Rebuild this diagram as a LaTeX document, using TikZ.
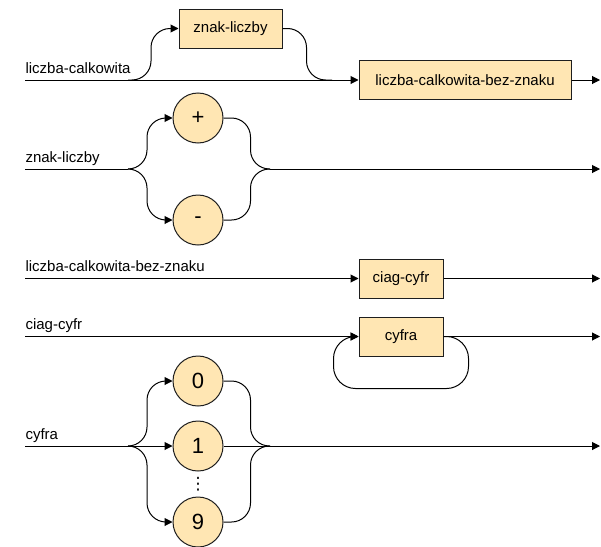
\documentclass[tikz,border=0pt]{standalone}
\usepackage{fontspec}
\setmainfont{Liberation Sans}
\newfontfamily\symfont{DejaVu Sans}
\usetikzlibrary{arrows.meta}
\definecolor{boxfill}{RGB}{255,230,179}
\definecolor{edgec}{RGB}{30,30,30}
\begin{document}
\begin{tikzpicture}[x=1pt,y=-1pt,line width=1pt,
  term/.style={draw=edgec,fill=boxfill,rectangle,minimum height=39pt,inner sep=0pt,font=\fontsize{15}{18}\selectfont},
  lit/.style={draw=edgec,fill=boxfill,circle,minimum size=50pt,inner sep=0pt,font=\fontsize{22}{26}\selectfont},
  lbl/.style={anchor=base west,inner sep=0pt,font=\fontsize{15}{18}\selectfont},
  arr/.style={-{Triangle[length=8pt,width=8pt]}},
  curvy/.style={rounded corners=19pt}]
\useasboundingbox (0,0) rectangle (601,546);

% ---------- row 1 ----------
\node[lbl] (l1) at (25,73) {liczba-calkowita};
\coordinate (a1) at (25,80);
\coordinate (s1) at (128,80);
\coordinate (m1) at (332,80);
\coordinate (e1) at (600,80);
\node[term,minimum width=103pt] (znak) at (230.5,28.5) {znak-liczby};
\node[term,minimum width=212pt] (lcbz) at (465,80) {liczba-calkowita-bez-znaku};
\draw[arr] (a1) -- (lcbz.west);
\draw[arr] (lcbz.east) -- (e1);
\draw[arr,curvy] (s1) -- ++(23,0) |- (znak.west);
\draw[curvy] (znak.east) -- ++(24,0) |- (m1);

% ---------- row 2 ----------
\node[lbl] (l2) at (25,162) {znak-liczby};
\coordinate (a2) at (25,169);
\coordinate (s2) at (128,169);
\coordinate (m2) at (270,169);
\coordinate (e2) at (600,169);
\node[lit] (plus) at (198,118) {+};
\node[lit] (minus) at (198,220) {-};
\draw (a2) -- (s2);
\draw[arr,curvy] (s2) -- ++(19,0) |- (plus.west);
\draw[arr,curvy] (s2) -- ++(19,0) |- (minus.west);
\draw[curvy] (plus.east) -- ++(27,0) |- (m2);
\draw[curvy] (minus.east) -- ++(27,0) |- (m2);
\draw[arr] (m2) -- (e2);

% ---------- row 3 ----------
\node[lbl] (l3) at (25,271) {liczba-calkowita-bez-znaku};
\coordinate (a3) at (25,278.5);
\coordinate (e3) at (600,278.5);
\node[term,minimum width=84pt] (ciag) at (401,278.5) {ciag-cyfr};
\draw[arr] (a3) -- (ciag.west);
\draw[arr] (ciag.east) -- (e3);

% ---------- row 4 ----------
\node[lbl] (l4) at (25,329) {ciag-cyfr};
\coordinate (a4) at (25,336.5);
\coordinate (e4) at (600,336.5);
\node[term,minimum width=84pt] (cyfra) at (401,336.5) {cyfra};
\draw[arr] (a4) -- (cyfra.west);
\draw[arr] (cyfra.east) -- (e4);
\draw[arr,rounded corners=22pt] (cyfra.east) -- ++(25,0) -- ++(0,52) -- ++(-135,0) -- ++(0,-52) -- (cyfra.west);

% ---------- row 5 ----------
\node[lbl] (l5) at (25,439) {cyfra};
\coordinate (a5) at (25,446);
\coordinate (s5) at (128,446);
\coordinate (m5) at (270,446);
\coordinate (e5) at (600,446);
\node[lit] (d0) at (198,381) {0};
\node[lit] (d1) at (198,446) {1};
\node[lit] (d9) at (198,522) {9};
\node[inner sep=0pt,font=\symfont\fontsize{17}{18}\selectfont] (dots) at (198,484) {⋮};
\draw[arr] (a5) -- (d1.west);
\draw[arr] (d1.east) -- (e5);
\draw[arr,curvy] (s5) -- ++(19,0) |- (d0.west);
\draw[arr,curvy] (s5) -- ++(19,0) |- (d9.west);
\draw[curvy] (d0.east) -- ++(27,0) |- (m5);
\draw[curvy] (d9.east) -- ++(27,0) |- (m5);
\end{tikzpicture}
\end{document}
